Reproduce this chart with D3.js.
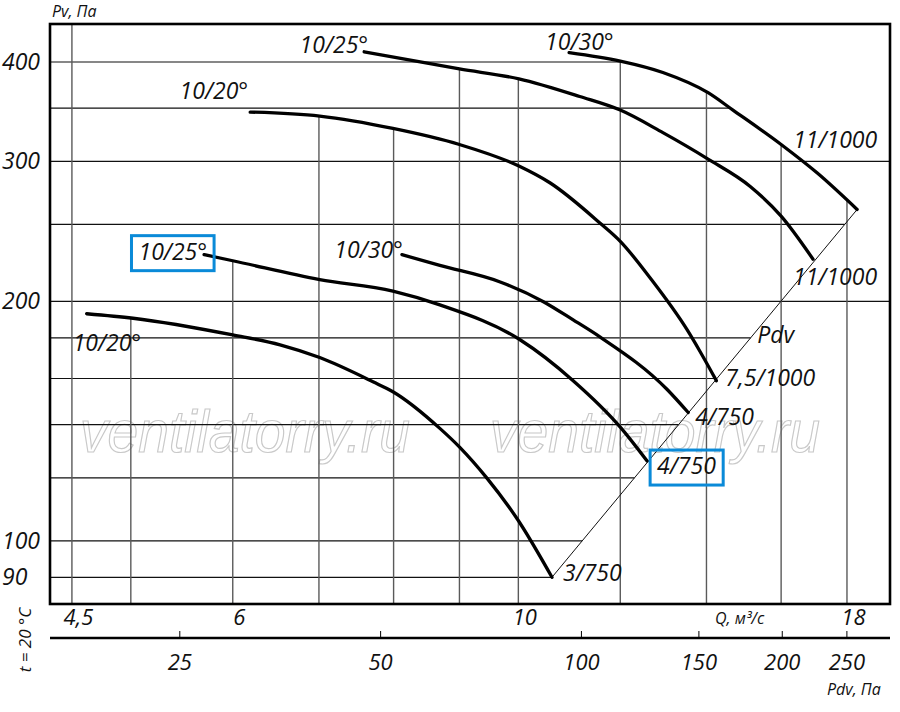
<!DOCTYPE html>
<html>
<head>
<meta charset="utf-8">
<script src="https://cdn.jsdelivr.net/npm/d3@7"></script>
<style>
  body { margin: 0; background: #fff; }
  svg text { font-family: "Open Sans", sans-serif; font-style: italic; fill: #111; }
</style>
</head>
<body>
<div id="chart"></div>
<script>
// fan curves: Q in m3/s, Pv in Pa
var q1 = [4.62, 5.02, 6.00, 6.53, 7.01, 7.71, 7.99, 8.69, 9.01, 9.45, 9.99, 10.62];
var pv1 = [193, 190.5, 181.5, 176.4, 170, 158.5, 154, 138.5, 131, 120, 106.3, 90];

var q2 = [5.70, 6.00, 7.01, 7.99, 8.69, 10.03, 11.03, 12.00, 12.59];
var pv2 = [229, 225, 213, 206, 198, 179, 159, 139, 126];

var q3 = [8.12, 8.69, 9.68, 10.45, 11.03, 11.57, 13.05, 13.55];
var pv3 = [229, 222, 211.6, 200, 189.6, 180.5, 155, 145];

var q4 = [6.19, 7.01, 7.99, 9.00, 10.01, 10.58, 11.57, 12.00, 12.66, 13.53, 13.84, 14.25];
var pv4 = [346, 342, 330, 315, 296, 282, 251, 238, 214, 184, 173, 159];

var q5 = [7.59, 9.00, 10.01, 11.16, 12.00, 12.95, 14.04, 15.14, 16.00, 16.94];
var pv5 = [412, 392, 381, 362, 348, 326, 302, 279, 256, 226];

var q6 = [10.95, 12.00, 12.95, 14.04, 14.68, 16.00, 17.07, 18.33];
var pv6 = [411, 401, 388, 366, 348, 315, 290, 261];

var startLabels = ["10/20°", "10/25°", "10/30°", "10/20°", "10/25°", "10/30°"];
var endLabels = ["3/750", "4/750", "4/750", "7,5/1000", "11/1000", "11/1000"];

// axes
var pvTicks = [90, 100, 200, 300, 400];
var pvGrid = [90, 100, 120, 140, 160, 180, 200, 250, 300, 350, 400];
var qTicks = [4.5, 6, 10, 18];
var qGrid = [4.5, 5, 6, 7, 8, 9, 10, 12, 14, 16, 18];
var pdvTicks = [25, 50, 100, 150, 200, 250];

var curves = [
  d3.zip(q1, pv1), d3.zip(q2, pv2), d3.zip(q3, pv3),
  d3.zip(q4, pv4), d3.zip(q5, pv5), d3.zip(q6, pv6)
];

// layout only
var plotL = 50, plotR = 890, plotT = 24, plotB = 604;
var fullRows = [200, 300];                 // rows drawn to the right frame
var gridStop = [-1, 0, 1, 3, 3, 4, 4, 5, 5, 5, 5]; // curve where each vertical grid line ends
var startPos = [[-14, 37, "start"], [3, 5, "end"], [1, 3, "end"], [-2, -13, "end"], [4, 1, "end"], [-24, -3, "start"]];
var endPos = [[11, 4], [10, 13], [7, 12], [9, 5], [-20, 26], [-64, -61]];
var boxedCurve = 1;

var svg = d3.select("#chart").append("svg")
  .attr("width", 900)
  .attr("height", 712);

var x = d3.scaleLog().domain([4.327, 19.44]).range([plotL, plotR]);
var y = d3.scaleLog().domain([83.3, 446.5]).range([plotB, plotT]);
var xPdv = d3.scaleLog().domain([16.0, 290.6]).range([plotL, plotR]);

// log-log interpolation helpers
function pvAt(c, q) {
  for (var i = 0; i < c.length - 1; i++) {
    if (q >= c[i][0] && q <= c[i + 1][0]) {
      var t = Math.log(q / c[i][0]) / Math.log(c[i + 1][0] / c[i][0]);
      return c[i][1] * Math.pow(c[i + 1][1] / c[i][1], t);
    }
  }
  return null;
}
function qAt(c, pv) {
  for (var i = 0; i < c.length - 1; i++) {
    if (pv <= c[i][1] && pv >= c[i + 1][1]) {
      var t = Math.log(pv / c[i][1]) / Math.log(c[i + 1][1] / c[i][1]);
      return c[i][0] * Math.pow(c[i + 1][0] / c[i][0], t);
    }
  }
  return null;
}

// Pdv line runs through the ends of the curves
var d0 = curves[0][curves[0].length - 1];
var d1 = curves[5][curves[5].length - 1];
var diag = [[d1[0], d1[1]], [d0[0], d0[1]]];

// watermark
["ventilatorry.ru", "ventilatorry.ru"].forEach(function(w, i) {
  svg.append("text")
    .attr("transform", "translate(" + (80 + i * 410) + ",452) scale(1,1.22)")
    .attr("textLength", 330)
    .attr("lengthAdjust", "spacingAndGlyphs")
    .style("font-family", "Liberation Sans")
    .style("font-size", "48px")
    .style("fill", "none")
    .style("stroke", "#c9c9c9")
    .style("stroke-width", 1)
    .text(w);
});

// horizontal grid
svg.append("g").selectAll("line")
  .data(pvGrid)
  .enter()
  .append("line")
  .attr("x1", plotL)
  .attr("x2", function(v) {
    if (fullRows.indexOf(v) >= 0) return plotR;
    if (v <= d1[1]) return x(qAt(diag, v));
    return x(qAt(curves[5], v));
  })
  .attr("y1", d => y(d))
  .attr("y2", d => y(d))
  .attr("stroke", "#111")
  .attr("stroke-width", 1.2);

// vertical grid
svg.append("g").selectAll("line")
  .data(qGrid)
  .enter()
  .append("line")
  .attr("x1", d => x(d))
  .attr("x2", d => x(d))
  .attr("y1", function(d, i) {
    return gridStop[i] < 0 ? plotT : y(pvAt(curves[gridStop[i]], d));
  })
  .attr("y2", plotB)
  .attr("stroke", "#5a5a5a")
  .attr("stroke-width", 1.4);

// Pdv diagonal
svg.append("line")
  .attr("x1", x(d0[0])).attr("y1", y(d0[1]))
  .attr("x2", x(d1[0])).attr("y2", y(d1[1]))
  .attr("stroke", "#111")
  .attr("stroke-width", 1);

// fan curves
var line = d3.line()
  .x(d => x(d[0]))
  .y(d => y(d[1]))
  .curve(d3.curveMonotoneX);

svg.append("g").selectAll("path")
  .data(curves)
  .enter()
  .append("path")
  .attr("d", line)
  .attr("fill", "none")
  .attr("stroke", "#000")
  .attr("stroke-width", 3.3)
  .attr("stroke-linecap", "round");

// curve labels
curves.forEach(function(c, i) {
  var s = c[0], e = c[c.length - 1];
  var t1 = svg.append("text")
    .attr("x", x(s[0]) + startPos[i][0])
    .attr("y", y(s[1]) + startPos[i][1])
    .attr("text-anchor", startPos[i][2])
    .style("font-size", "23px")
    .text(startLabels[i]);
  var t2 = svg.append("text")
    .attr("x", x(e[0]) + endPos[i][0])
    .attr("y", y(e[1]) + endPos[i][1])
    .style("font-size", "23px")
    .text(endLabels[i]);
  if (i === boxedCurve) {
    [t1, t2].forEach(function(t) {
      var b = t.node().getBBox();
      svg.append("rect")
        .attr("x", b.x - 7).attr("y", b.y + 1)
        .attr("width", b.width + 14).attr("height", b.height + 3)
        .attr("fill", "none")
        .attr("stroke", "#0a8ad8")
        .attr("stroke-width", 3);
    });
  }
});

svg.append("text")
  .attr("x", x(d1[0]) - 100).attr("y", 343)
  .style("font-size", "23px")
  .text("Pdv");

// frame
svg.append("rect")
  .attr("x", plotL).attr("y", plotT)
  .attr("width", plotR - plotL).attr("height", plotB - plotT)
  .attr("fill", "none")
  .attr("stroke", "#000")
  .attr("stroke-width", 2.6);

// Pv labels
svg.append("g").selectAll("text")
  .data(pvTicks)
  .enter()
  .append("text")
  .attr("x", 2)
  .attr("y", d => y(d) + 8)
  .style("font-size", "23px")
  .text(d => d);

svg.append("text").attr("x", 52).attr("y", 17).style("font-size", "16px").text("Pv, Па");

// Q labels
var qFmt = d => String(d).replace(".", ",");
var qAxis = d3.axisBottom(x).tickValues(qTicks).tickSize(0).tickPadding(0).tickFormat(qFmt);
var gq = svg.append("g").attr("transform", "translate(6," + (plotB + 21) + ")").call(qAxis);
gq.select(".domain").remove();
gq.selectAll("text").attr("dy", 0).style("font-size", "22px").style("font-family", null);

svg.append("text").attr("x", 715).attr("y", 624).style("font-size", "16px").text("Q, м³/с");

// Pdv axis
var pdvY = 638;
svg.append("line")
  .attr("x1", plotL).attr("x2", plotR)
  .attr("y1", pdvY).attr("y2", pdvY)
  .attr("stroke", "#000").attr("stroke-width", 2.6);

var pAxis = d3.axisBottom(xPdv).tickValues(pdvTicks).tickSize(-7).tickPadding(24);
var gp = svg.append("g").attr("transform", "translate(0," + pdvY + ")").call(pAxis);
gp.select(".domain").remove();
gp.selectAll(".tick line").attr("stroke", "#000").attr("stroke-width", 1);
gp.selectAll("text").attr("y", 0).attr("dy", 32).style("font-size", "22px").style("font-family", null);

svg.append("text").attr("x", 827).attr("y", 695).style("font-size", "16px").text("Pdv, Па");

svg.append("text")
  .attr("transform", "translate(31,640) rotate(-90)")
  .attr("text-anchor", "middle")
  .style("font-size", "17px")
  .text("t = 20 °C");
</script>
</body>
</html>
